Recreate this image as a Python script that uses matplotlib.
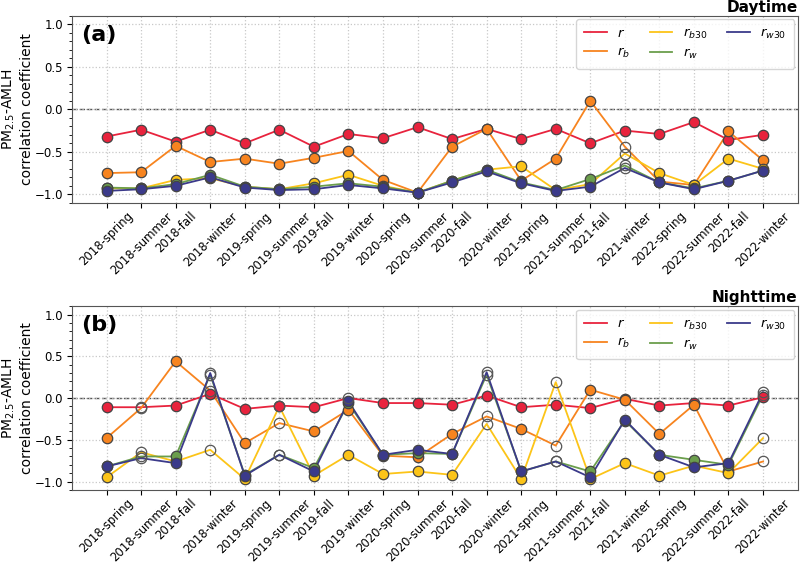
import numpy as np
import matplotlib
matplotlib.use("Agg")
import matplotlib.pyplot as plt
from matplotlib.ticker import MultipleLocator

seasons = ['2018-spring', '2018-summer', '2018-fall', '2018-winter',
           '2019-spring', '2019-summer', '2019-fall', '2019-winter',
           '2020-spring', '2020-summer', '2020-fall', '2020-winter',
           '2021-spring', '2021-summer', '2021-fall', '2021-winter',
           '2022-spring', '2022-summer', '2022-fall', '2022-winter']

# daytime correlations
day_r = [-0.32, -0.24, -0.38, -0.24, -0.40, -0.24, -0.44, -0.29, -0.34, -0.21,
         -0.35, -0.23, -0.35, -0.23, -0.40, -0.25, -0.29, -0.15, -0.36, -0.30]
day_rb = [-0.75, -0.74, -0.43, -0.62, -0.58, -0.64, -0.57, -0.49, -0.83, -0.98,
          -0.44, -0.23, -0.84, -0.58, 0.10, -0.44, -0.85, -0.89, -0.26, -0.60]
day_rb30 = [-0.93, -0.93, -0.83, -0.81, -0.91, -0.94, -0.87, -0.77, -0.90, -0.98,
            -0.84, -0.71, -0.67, -0.95, -0.88, -0.52, -0.75, -0.89, -0.58, -0.70]
day_rw = [-0.92, -0.93, -0.88, -0.77, -0.91, -0.94, -0.91, -0.87, -0.91, -0.98,
          -0.84, -0.71, -0.86, -0.95, -0.82, -0.66, -0.86, -0.93, -0.84, -0.72]
day_rw30 = [-0.96, -0.94, -0.90, -0.80, -0.92, -0.95, -0.94, -0.89, -0.93, -0.98,
            -0.86, -0.73, -0.87, -0.96, -0.91, -0.69, -0.86, -0.94, -0.84, -0.72]

# nighttime correlations
night_r = [-0.11, -0.11, -0.09, 0.05, -0.13, -0.09, -0.11, 0.00, -0.06, -0.06,
           -0.08, 0.03, -0.11, -0.08, -0.12, -0.01, -0.09, -0.06, -0.09, 0.01]
night_rb = [-0.48, -0.12, 0.44, 0.09, -0.54, -0.30, -0.40, -0.14, -0.69, -0.71,
            -0.43, -0.22, -0.37, -0.57, 0.10, -0.02, -0.43, -0.08, -0.88, -0.76]
night_rb30 = [-0.95, -0.65, -0.76, -0.62, -0.97, -0.10, -0.93, -0.68, -0.91, -0.88,
              -0.92, -0.31, -0.97, 0.19, -0.97, -0.78, -0.93, -0.81, -0.90, -0.48]
night_rw = [-0.82, -0.70, -0.70, 0.28, -0.92, -0.68, -0.84, -0.06, -0.68, -0.66,
            -0.67, 0.28, -0.88, -0.76, -0.88, -0.27, -0.68, -0.74, -0.80, 0.04]
night_rw30 = [-0.82, -0.72, -0.78, 0.30, -0.93, -0.68, -0.88, -0.04, -0.68, -0.62,
              -0.67, 0.31, -0.88, -0.76, -0.95, -0.26, -0.68, -0.83, -0.78, 0.07]

# indices of non-significant points (drawn hollow)
day_hollow = {'r': [], 'rb': [15], 'rb30': [15], 'rw': [15], 'rw30': [15]}
night_hollow = {'r': [1, 7], 'rb': [1, 3, 5, 11, 13, 19], 'rb30': [1, 3, 5, 11, 13, 19],
                'rw': [1, 3, 5, 11, 13, 19], 'rw30': [1, 3, 5, 11, 13, 19]}

keys = ['r', 'rb', 'rb30', 'rw', 'rw30']
labels = [r'$r$', r'$r_b$', r'$r_{b30}$', r'$r_w$', r'$r_{w30}$']
colors = ['#e8233d', '#f7841f', '#fcc418', '#6b9e4c', '#3b3a8a']


def draw_panel(ax, series, hollow, tag, title):
    x = np.arange(len(seasons))
    ax.axhline(0, color='#555555', ls='--', lw=1.0, zorder=1)
    for key, lab, col in zip(keys, labels, colors):
        y = np.array(series[key])
        ax.plot(x, y, color=col, lw=1.3, label=lab, zorder=2)
        filled = np.ones(len(y), dtype=bool)
        filled[hollow[key]] = False
        ax.plot(x[filled], y[filled], 'o', ls='none', ms=7.5, mfc=col,
                mec='#444444', mew=0.9, zorder=3)
        ax.plot(x[~filled], y[~filled], 'o', ls='none', ms=7.5, mfc='none',
                mec='#555555', mew=0.9, zorder=4)
    ax.set_xlim(-1, 20)
    ax.set_ylim(-1.1, 1.1)
    ax.set_xticks(x)
    ax.set_xticklabels(seasons, rotation=45, fontsize=8.4)
    ax.tick_params(axis='x', pad=1.5)
    ax.set_yticks([-1.0, -0.5, 0.0, 0.5, 1.0])
    ax.yaxis.set_minor_locator(MultipleLocator(0.1))
    ax.tick_params(axis='y', labelsize=8.5, pad=3)
    ax.grid(True, which='major', color='#c8c8c8', ls=':', lw=0.9)
    for sp in ax.spines.values():
        sp.set_color('#555555')
    ax.set_ylabel('PM$_{2.5}$-AMLH\ncorrelation coefficient', fontsize=10)
    ax.yaxis.set_label_coords(-0.053, 0.5)
    ax.text(0.012, 0.95, tag, transform=ax.transAxes, fontsize=16,
            fontweight='bold', va='top', ha='left')
    ax.set_title(title, loc='right', fontweight='bold', fontsize=11, pad=3)
    ax.legend(loc='upper right', ncol=3, fontsize=9.5, handlelength=1.7,
              columnspacing=1.5, borderpad=0.6, borderaxespad=0.25,
              labelspacing=0.45)


fig = plt.figure(figsize=(8, 5.65), dpi=100)
ax1 = fig.add_axes([0.09, 0.641, 0.907, 0.331])
ax2 = fig.add_axes([0.09, 0.133, 0.907, 0.325])

day = {'r': day_r, 'rb': day_rb, 'rb30': day_rb30, 'rw': day_rw, 'rw30': day_rw30}
night = {'r': night_r, 'rb': night_rb, 'rb30': night_rb30, 'rw': night_rw, 'rw30': night_rw30}

draw_panel(ax1, day, day_hollow, '(a)', 'Daytime')
draw_panel(ax2, night, night_hollow, '(b)', 'Nighttime')

fig.savefig('out.png', dpi=100)
